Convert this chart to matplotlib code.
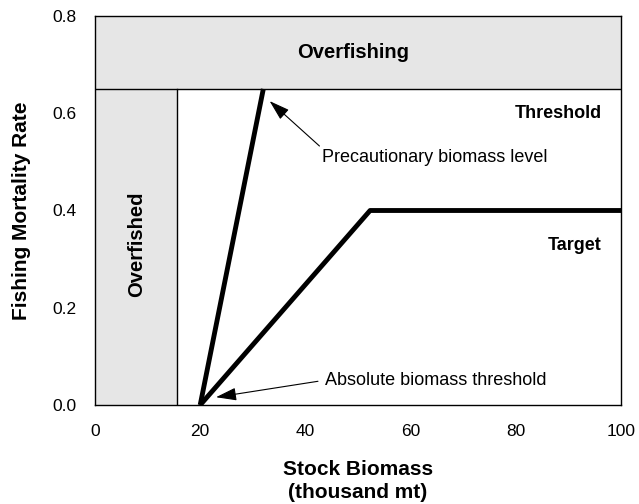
import matplotlib
matplotlib.use("Agg")
import matplotlib.pyplot as plt

# control rule data
x_limit = 15.6          # overfished boundary (thousand mt)
f_threshold = 0.65      # overfishing boundary
threshold_x = [20, 32]
threshold_y = [0.0, 0.65]
target_x = [20, 52.3, 100]
target_y = [0.0, 0.4, 0.4]

xticks = [0, 20, 40, 60, 80, 100]
yticks = [0.0, 0.2, 0.4, 0.6, 0.8]

plt.rcParams['font.family'] = ['Liberation Sans', 'DejaVu Sans']

fig = plt.figure(figsize=(6.39, 5.04), dpi=100)
ax = fig.add_axes([95 / 639, 1 - 405 / 504, 526 / 639, 389 / 504])

# shaded regions
ax.fill_between([0, 100], f_threshold, 0.8, color='#e6e6e6', lw=0, zorder=0)
ax.fill_between([0, x_limit], 0, f_threshold, color='#e6e6e6', lw=0, zorder=0)
ax.plot([0, 100], [f_threshold, f_threshold], color='black', lw=1)
ax.plot([x_limit, x_limit], [0, f_threshold], color='black', lw=1)

# control rules
ax.plot(threshold_x, threshold_y, color='black', lw=3.5, solid_capstyle='butt')
ax.plot(target_x, target_y, color='black', lw=3.5, solid_capstyle='butt')

ax.text(49, 0.725, 'Overfishing', ha='center', va='center', fontsize=14.5, fontweight='bold')
ax.text(7.9, 0.33, 'Overfished', ha='center', va='center', rotation=90, fontsize=14.5, fontweight='bold')
ax.text(96.3, 0.60, 'Threshold', ha='right', va='center', fontsize=13, fontweight='bold')
ax.text(96.3, 0.327, 'Target', ha='right', va='center', fontsize=13, fontweight='bold')

arrow = '-|>,head_length=0.7,head_width=0.22'
ax.annotate('Precautionary biomass level', xy=(33.2, 0.625), xytext=(43.2, 0.51),
            ha='left', va='center', fontsize=13,
            arrowprops=dict(arrowstyle=arrow, color='black', lw=0.8, mutation_scale=18,
                            shrinkA=0, shrinkB=0, relpos=(0, 1)))
ax.annotate('Absolute biomass threshold', xy=(23.0, 0.016), xytext=(43.7, 0.051),
            ha='left', va='center', fontsize=13,
            arrowprops=dict(arrowstyle=arrow, color='black', lw=0.8, mutation_scale=18,
                            shrinkA=3, shrinkB=0, relpos=(0, 0.5)))

ax.set_xlim(0, 100)
ax.set_ylim(0, 0.8)
ax.set_xticks(xticks)
ax.set_yticks(yticks)
ax.set_yticklabels(['%.1f' % v for v in yticks])
ax.tick_params(length=0, labelsize=12.5)
ax.tick_params(axis='x', pad=14)
ax.tick_params(axis='y', pad=13)
for s in ax.spines.values():
    s.set_linewidth(1)

ax.set_xlabel('Stock Biomass\n(thousand mt)', fontsize=15, fontweight='bold', labelpad=15,
              linespacing=1.25)
ax.set_ylabel('Fishing Mortality Rate', fontsize=15, fontweight='bold', labelpad=16)

fig.savefig('out.png', dpi=100)
